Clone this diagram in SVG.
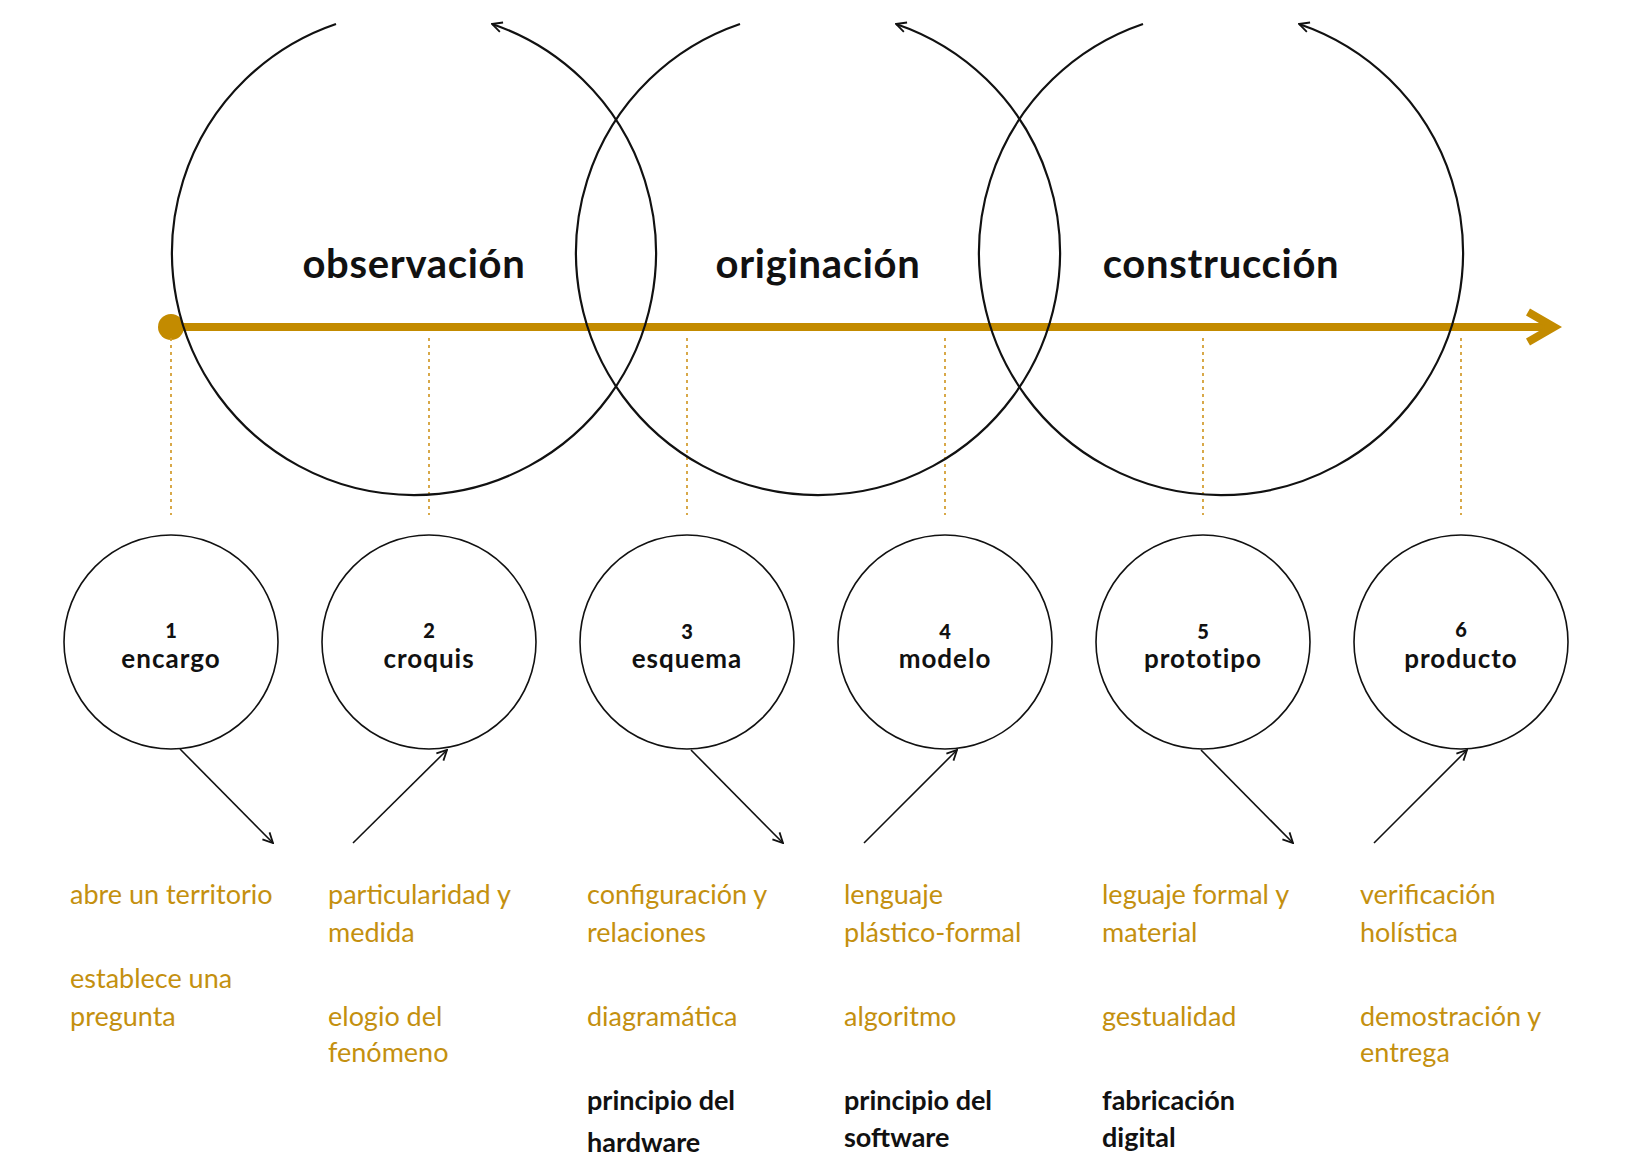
<svg xmlns="http://www.w3.org/2000/svg" width="1638" height="1168" viewBox="0 0 1638 1168">
  <style>
    .bg { fill: #ffffff; }
    .cycle { fill: none; stroke: #111111; stroke-width: 2.2; }
    .stage { fill: #ffffff; stroke: #111111; stroke-width: 1.6; }
    .link { fill: none; stroke: #111111; stroke-width: 1.6; }
    .guide { fill: none; stroke: #D29A2A; stroke-width: 1.7; stroke-dasharray: 3 4; }
    .axis { fill: none; stroke: #C38B00; stroke-width: 8; }
    .phase { font-family: Lato, "Liberation Sans", sans-serif; font-weight: 700; font-size: 40px; fill: #111111; text-anchor: middle; letter-spacing: 0.7px; }
    .num { font-family: Lato, "Liberation Sans", sans-serif; font-weight: 900; font-size: 20px; fill: #111111; text-anchor: middle; }
    .name { font-family: Lato, "Liberation Sans", sans-serif; font-weight: 700; font-size: 26px; fill: #111111; text-anchor: middle; letter-spacing: 1px; }
    .note { font-family: Lato, "Liberation Sans", sans-serif; font-weight: 400; font-size: 27px; fill: #C4900F; }
    .key { font-family: Lato, "Liberation Sans", sans-serif; font-weight: 700; font-size: 27px; fill: #111111; }
  </style>
  <defs>
    <marker id="chev" viewBox="0 0 12 12" refX="11" refY="6" markerWidth="12" markerHeight="12" markerUnits="userSpaceOnUse" orient="auto">
      <path d="M1,1 L11,6 L1,11" fill="none" stroke="#111111" stroke-width="1.8"/>
    </marker>
  </defs>

  <rect class="bg" x="0" y="0" width="1638" height="1168"/>

  <!-- time axis -->
  <g id="axis">
    <line class="axis" x1="171" y1="327" x2="1552" y2="327"/>
    <polyline class="axis" points="1528,312 1554,327 1528,342" stroke-linejoin="miter"/>
    <circle cx="171" cy="327" r="13" fill="#C38B00"/>
  </g>

  <!-- dotted guides from the axis to each stage -->
  <g id="guides">
    <line class="guide" x1="171" y1="338" x2="171" y2="515"/>
    <line class="guide" x1="429" y1="338" x2="429" y2="515"/>
    <line class="guide" x1="687" y1="338" x2="687" y2="515"/>
    <line class="guide" x1="945" y1="338" x2="945" y2="515"/>
    <line class="guide" x1="1203" y1="338" x2="1203" y2="515"/>
    <line class="guide" x1="1461" y1="338" x2="1461" y2="515"/>
  </g>

  <!-- phase cycles -->
  <g id="phase-observacion">
    <path class="cycle" d="M336,24 A242,242 0 1 0 492,24" marker-end="url(#chev)"/>
    <text class="phase" x="414" y="278">observación</text>
  </g>
  <g id="phase-originacion">
    <path class="cycle" d="M740,24 A242,242 0 1 0 896,24" marker-end="url(#chev)"/>
    <text class="phase" x="818" y="278">originación</text>
  </g>
  <g id="phase-construccion">
    <path class="cycle" d="M1143,24 A242,242 0 1 0 1299,24" marker-end="url(#chev)"/>
    <text class="phase" x="1221" y="278">construcción</text>
  </g>

  <!-- stages -->
  <g id="stage-1">
    <circle class="stage" cx="171" cy="642" r="107"/>
    <text class="num" x="171" y="638">1</text>
    <text class="name" x="171" y="668">encargo</text>
  </g>
  <g id="stage-2">
    <circle class="stage" cx="429" cy="642" r="107"/>
    <text class="num" x="429" y="638">2</text>
    <text class="name" x="429" y="668">croquis</text>
  </g>
  <g id="stage-3">
    <circle class="stage" cx="687" cy="642" r="107"/>
    <text class="num" x="687" y="639">3</text>
    <text class="name" x="687" y="668">esquema</text>
  </g>
  <g id="stage-4">
    <circle class="stage" cx="945" cy="642" r="107"/>
    <text class="num" x="945" y="639">4</text>
    <text class="name" x="945" y="668">modelo</text>
  </g>
  <g id="stage-5">
    <circle class="stage" cx="1203" cy="642" r="107"/>
    <text class="num" x="1203" y="639">5</text>
    <text class="name" x="1203" y="668">prototipo</text>
  </g>
  <g id="stage-6">
    <circle class="stage" cx="1461" cy="642" r="107"/>
    <text class="num" x="1461" y="637">6</text>
    <text class="name" x="1461" y="668">producto</text>
  </g>

  <!-- diagonal connectors between stages and notes -->
  <g id="connectors">
    <line class="link" x1="180" y1="749" x2="273" y2="843" marker-end="url(#chev)"/>
    <line class="link" x1="353" y1="843" x2="447" y2="750" marker-end="url(#chev)"/>
    <line class="link" x1="691" y1="750" x2="783" y2="843" marker-end="url(#chev)"/>
    <line class="link" x1="864" y1="843" x2="957" y2="750" marker-end="url(#chev)"/>
    <line class="link" x1="1201" y1="750" x2="1293" y2="843" marker-end="url(#chev)"/>
    <line class="link" x1="1374" y1="843" x2="1467" y2="750" marker-end="url(#chev)"/>
  </g>

  <!-- notes per stage -->
  <g id="notes-1">
    <text class="note" x="70" y="904">abre un territorio</text>
    <text class="note" x="70" y="988">establece una</text>
    <text class="note" x="70" y="1026">pregunta</text>
  </g>
  <g id="notes-2">
    <text class="note" x="328" y="904">particularidad y</text>
    <text class="note" x="328" y="942">medida</text>
    <text class="note" x="328" y="1026">elogio del</text>
    <text class="note" x="328" y="1062">fenómeno</text>
  </g>
  <g id="notes-3">
    <text class="note" x="587" y="904">configuración y</text>
    <text class="note" x="587" y="942">relaciones</text>
    <text class="note" x="587" y="1026">diagramática</text>
    <text class="key" x="587" y="1110">principio del</text>
    <text class="key" x="587" y="1152">hardware</text>
  </g>
  <g id="notes-4">
    <text class="note" x="844" y="904">lenguaje</text>
    <text class="note" x="844" y="942">plástico-formal</text>
    <text class="note" x="844" y="1026">algoritmo</text>
    <text class="key" x="844" y="1110">principio del</text>
    <text class="key" x="844" y="1147">software</text>
  </g>
  <g id="notes-5">
    <text class="note" x="1102" y="904">leguaje formal y</text>
    <text class="note" x="1102" y="942">material</text>
    <text class="note" x="1102" y="1026">gestualidad</text>
    <text class="key" x="1102" y="1110">fabricación</text>
    <text class="key" x="1102" y="1147">digital</text>
  </g>
  <g id="notes-6">
    <text class="note" x="1360" y="904">verificación</text>
    <text class="note" x="1360" y="942">holística</text>
    <text class="note" x="1360" y="1026">demostración y</text>
    <text class="note" x="1360" y="1062">entrega</text>
  </g>
</svg>
